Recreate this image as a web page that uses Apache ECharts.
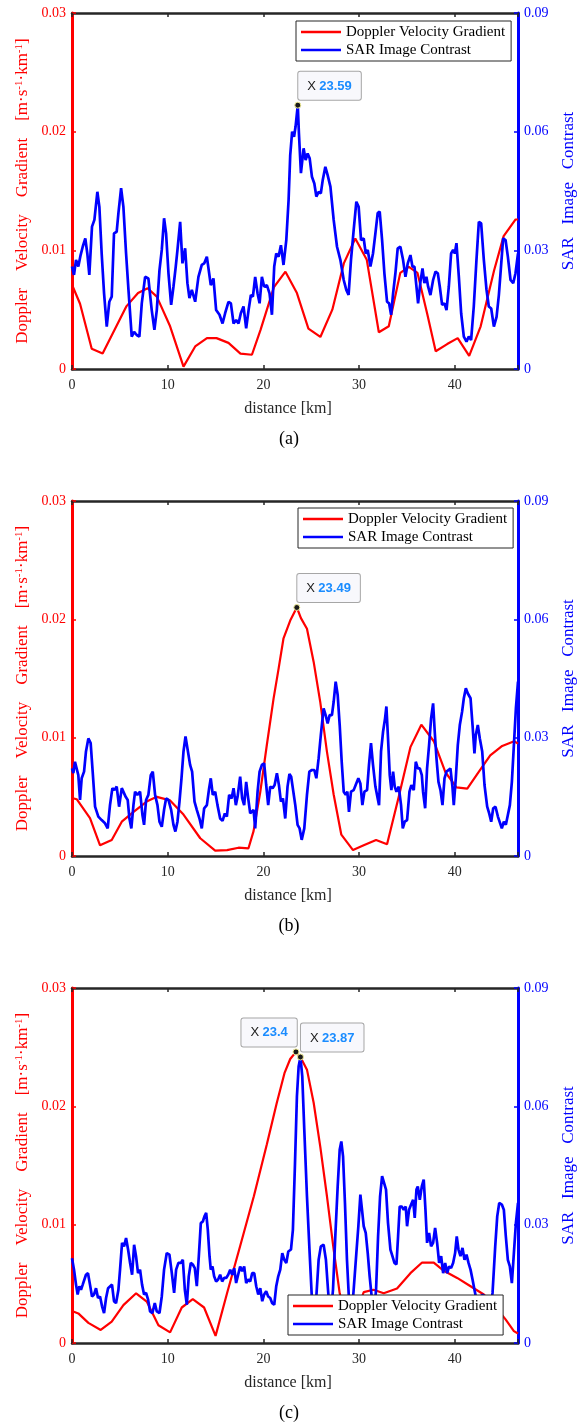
<!DOCTYPE html>
<html>
<head>
<meta charset="utf-8">
<title>Doppler velocity gradient and SAR image contrast</title>
<script src="https://cdn.jsdelivr.net/npm/echarts@6/dist/echarts.min.js"></script>
<style>
  html, body { margin: 0; padding: 0; background: #fff; }
  #chart { width: 578px; height: 1425px; }
</style>
</head>
<body>
<div id="chart"></div>
<script>
// ---------- data ----------
const X_MAX = 46.6;
const xTicks = [0, 10, 20, 30, 40];
const leftTicks = [0, 0.01, 0.02, 0.03];
const rightTicks = [0, 0.03, 0.06, 0.09];
const seriesNames = ['Doppler Velocity Gradient', 'SAR Image Contrast'];
const captions = ['(a)', '(b)', '(c)'];

// (a)
const aGradKm = [0, 0.84, 2.06, 3.2, 5.7, 6.9, 7.9, 8.86, 10.25, 11.65, 12.87, 14.1, 15.1, 16.35, 17.6, 18.8, 19.7, 21.1, 22.3, 23.5, 24.7, 25.95, 27.2, 28.4, 29.6, 30.8, 32.06, 33.1, 34.3, 35.2, 36.1, 37.1, 38.0, 39.2, 40.3, 41.5, 42.7, 44.1, 45.1, 46.35, 46.6];
const aGradVal = [0.0071, 0.0055, 0.0017, 0.0013, 0.0053, 0.0064, 0.0068, 0.0061, 0.0036, 0.0002, 0.0019, 0.0026, 0.0026, 0.0022, 0.0013, 0.0012, 0.0033, 0.0069, 0.0082, 0.0064, 0.0034, 0.0027, 0.0050, 0.0089, 0.0110, 0.0092, 0.0031, 0.0036, 0.0081, 0.0086, 0.0081, 0.0047, 0.0015, 0.0021, 0.0026, 0.0011, 0.0036, 0.0083, 0.0112, 0.0126, 0.0126];
const aConKm = [0, 0.21, 0.42, 0.66, 0.9, 1.12, 1.39, 1.6, 1.81, 2.09, 2.34, 2.65, 2.86, 3.1, 3.35, 3.63, 3.9, 4.15, 4.39, 4.67, 4.85, 5.13, 5.37, 5.65, 5.9, 6.24, 6.49, 6.76, 7.04, 7.29, 7.64, 7.98, 8.33, 8.61, 8.86, 9.14, 9.38, 9.62, 9.83, 10.08, 10.36, 10.6, 10.84, 11.02, 11.3, 11.54, 11.82, 12.06, 12.27, 12.52, 12.87, 13.21, 13.56, 13.81, 14.09, 14.33, 14.5, 14.78, 15.06, 15.41, 15.73, 16.0, 16.35, 16.6, 16.88, 17.15, 17.4, 17.64, 17.92, 18.2, 18.45, 18.69, 18.9, 19.14, 19.39, 19.6, 19.84, 20.08, 20.36, 20.64, 20.89, 21.13, 21.34, 21.58, 21.83, 22.1, 22.39, 22.63, 22.8, 23.0, 23.2, 23.36, 23.59, 23.71, 23.92, 24.2, 24.41, 24.62, 24.83, 25.07, 25.32, 25.53, 25.77, 26.0, 26.2, 26.47, 26.71, 27.0, 27.34, 27.69, 28.04, 28.39, 28.66, 28.9, 29.15, 29.43, 29.71, 29.95, 30.2, 30.48, 30.69, 30.9, 31.18, 31.45, 31.7, 31.94, 32.15, 32.4, 32.64, 32.92, 33.13, 33.34, 33.55, 33.79, 34.03, 34.31, 34.59, 34.84, 35.08, 35.36, 35.57, 35.78, 35.99, 36.16, 36.41, 36.62, 36.82, 37.03, 37.21, 37.45, 37.73, 37.98, 38.22, 38.43, 38.67, 38.92, 39.13, 39.37, 39.61, 39.82, 40.0, 40.17, 40.42, 40.66, 40.94, 41.22, 41.46, 41.7, 41.98, 42.26, 42.51, 42.75, 43.03, 43.31, 43.55, 43.8, 44.08, 44.36, 44.6, 44.85, 45.05, 45.3, 45.54, 45.82, 46.1, 46.34, 46.6];
const aConVal = [0.0259, 0.0238, 0.0276, 0.0259, 0.0288, 0.0309, 0.0330, 0.0292, 0.0238, 0.0360, 0.0377, 0.0448, 0.0410, 0.0292, 0.0191, 0.0107, 0.0170, 0.0183, 0.0343, 0.0347, 0.0394, 0.0457, 0.0410, 0.0292, 0.0200, 0.0082, 0.0094, 0.0086, 0.0082, 0.0166, 0.0233, 0.0229, 0.0149, 0.0099, 0.0149, 0.0250, 0.0301, 0.0381, 0.0343, 0.0242, 0.0162, 0.0208, 0.0259, 0.0301, 0.0372, 0.0267, 0.0305, 0.0217, 0.0179, 0.0200, 0.0170, 0.0233, 0.0263, 0.0267, 0.0284, 0.0242, 0.0212, 0.0229, 0.0149, 0.0137, 0.0115, 0.0141, 0.0170, 0.0166, 0.0115, 0.0124, 0.0115, 0.0141, 0.0158, 0.0103, 0.0149, 0.0187, 0.0183, 0.0233, 0.0191, 0.0166, 0.0233, 0.0208, 0.0212, 0.0191, 0.0137, 0.0259, 0.0292, 0.0284, 0.0313, 0.0263, 0.0326, 0.0427, 0.0540, 0.0600, 0.0587, 0.0613, 0.0667, 0.0596, 0.0495, 0.0558, 0.0528, 0.0545, 0.0533, 0.0486, 0.0469, 0.0436, 0.0448, 0.0444, 0.0478, 0.0511, 0.0490, 0.0461, 0.0377, 0.0309, 0.0276, 0.0225, 0.0200, 0.0187, 0.0276, 0.0351, 0.0423, 0.0410, 0.0326, 0.0330, 0.0292, 0.0301, 0.0259, 0.0292, 0.0343, 0.0394, 0.0398, 0.0326, 0.0242, 0.0170, 0.0166, 0.0137, 0.0191, 0.0242, 0.0305, 0.0309, 0.0276, 0.0233, 0.0267, 0.0288, 0.0259, 0.0259, 0.0208, 0.0166, 0.0221, 0.0254, 0.0217, 0.0233, 0.0208, 0.0187, 0.0225, 0.0246, 0.0242, 0.0208, 0.0162, 0.0166, 0.0149, 0.0208, 0.0292, 0.0301, 0.0292, 0.0318, 0.0233, 0.0141, 0.0082, 0.0069, 0.0082, 0.0073, 0.0158, 0.0276, 0.0372, 0.0368, 0.0276, 0.0200, 0.0158, 0.0153, 0.0107, 0.0132, 0.0187, 0.0267, 0.0330, 0.0326, 0.0284, 0.0225, 0.0217, 0.0242, 0.0292];

// (b)
const bGradKm = [0, 0.49, 1.88, 2.93, 4.15, 5.2, 6.4, 7.8, 8.86, 10.25, 11.65, 13.4, 14.96, 16.2, 17.4, 18.44, 18.97, 19.67, 20.36, 21.06, 21.6, 22.1, 22.8, 23.49, 23.92, 24.55, 25.25, 25.94, 26.64, 27.34, 28.14, 29.36, 30.48, 31.77, 32.92, 34.14, 35.36, 36.5, 37.8, 39.0, 40.17, 41.3, 42.5, 43.7, 44.95, 46.2, 46.6];
const bGradVal = [0.0049, 0.0048, 0.0032, 0.0009, 0.00135, 0.0029, 0.0037, 0.0046, 0.0050, 0.0047, 0.0035, 0.0015, 0.00045, 0.0005, 0.0007, 0.00065, 0.0021, 0.0054, 0.0094, 0.0133, 0.0159, 0.0184, 0.0199, 0.0210, 0.0201, 0.0192, 0.0164, 0.0130, 0.0088, 0.0052, 0.0018, 0.0005, 0.0009, 0.00135, 0.0010, 0.0050, 0.0092, 0.0111, 0.0097, 0.0071, 0.0058, 0.0057, 0.0071, 0.0085, 0.0093, 0.0097, 0.0095];
const bConKm = [0, 0.14, 0.31, 0.49, 0.66, 0.84, 1.01, 1.26, 1.46, 1.71, 1.95, 2.16, 2.41, 2.75, 3.1, 3.45, 3.73, 3.97, 4.22, 4.43, 4.67, 4.92, 5.2, 5.4, 5.61, 5.82, 6.0, 6.2, 6.42, 6.59, 6.83, 7.11, 7.36, 7.53, 7.74, 7.98, 8.23, 8.44, 8.68, 8.93, 9.14, 9.38, 9.62, 9.83, 10.08, 10.36, 10.6, 10.8, 11.02, 11.23, 11.44, 11.65, 11.86, 12.06, 12.34, 12.55, 12.8, 13.04, 13.32, 13.56, 13.81, 14.09, 14.33, 14.5, 14.71, 14.96, 15.2, 15.48, 15.73, 15.97, 16.18, 16.42, 16.67, 16.88, 17.12, 17.3, 17.57, 17.78, 17.99, 18.2, 18.41, 18.62, 18.8, 18.97, 19.14, 19.39, 19.6, 19.84, 20.08, 20.29, 20.5, 20.71, 20.96, 21.17, 21.41, 21.62, 21.83, 22.04, 22.28, 22.52, 22.72, 22.9, 23.1, 23.33, 23.57, 23.78, 24.0, 24.27, 24.55, 24.8, 25.07, 25.32, 25.53, 25.77, 26.0, 26.29, 26.5, 26.71, 26.92, 27.16, 27.34, 27.55, 27.76, 27.97, 28.18, 28.39, 28.6, 28.77, 28.94, 29.15, 29.43, 29.64, 29.92, 30.13, 30.34, 30.55, 30.83, 31.03, 31.24, 31.45, 31.7, 31.94, 32.08, 32.29, 32.5, 32.71, 32.85, 33.02, 33.2, 33.37, 33.55, 33.72, 33.9, 34.14, 34.38, 34.56, 34.77, 35.01, 35.26, 35.46, 35.71, 35.92, 36.13, 36.34, 36.55, 36.68, 36.9, 37.1, 37.31, 37.52, 37.73, 37.9, 38.08, 38.29, 38.5, 38.71, 38.92, 39.13, 39.33, 39.54, 39.75, 39.89, 40.1, 40.31, 40.52, 40.76, 40.94, 41.15, 41.36, 41.64, 41.85, 42.05, 42.19, 42.4, 42.61, 42.86, 43.1, 43.38, 43.59, 43.8, 44.01, 44.25, 44.5, 44.7, 44.91, 45.12, 45.33, 45.54, 45.75, 45.96, 46.17, 46.38, 46.6];
const bConVal = [0.0222, 0.0210, 0.0239, 0.0239, 0.0205, 0.0142, 0.0197, 0.0214, 0.0265, 0.0298, 0.0286, 0.0214, 0.0125, 0.0100, 0.0091, 0.0083, 0.0070, 0.0129, 0.0172, 0.0167, 0.0176, 0.0125, 0.0172, 0.0176, 0.0150, 0.0142, 0.0095, 0.0070, 0.0129, 0.0163, 0.0155, 0.0163, 0.0104, 0.0079, 0.0142, 0.0155, 0.0205, 0.0214, 0.0155, 0.0129, 0.0087, 0.0074, 0.0117, 0.0146, 0.0142, 0.0117, 0.0079, 0.0062, 0.0087, 0.0138, 0.0197, 0.0265, 0.0303, 0.0298, 0.0231, 0.0214, 0.0138, 0.0117, 0.0095, 0.0070, 0.0121, 0.0129, 0.0172, 0.0197, 0.0155, 0.0163, 0.0129, 0.0095, 0.0089, 0.0108, 0.0100, 0.0155, 0.0146, 0.0172, 0.0129, 0.0150, 0.0201, 0.0146, 0.0129, 0.0188, 0.0146, 0.0108, 0.0108, 0.0117, 0.0070, 0.0163, 0.0214, 0.0231, 0.0235, 0.0180, 0.0129, 0.0176, 0.0172, 0.0180, 0.0210, 0.0180, 0.0138, 0.0146, 0.0095, 0.0176, 0.0208, 0.0201, 0.0205, 0.0129, 0.0079, 0.0070, 0.0041, 0.0070, 0.0155, 0.0214, 0.0218, 0.0218, 0.0197, 0.0248, 0.0307, 0.0374, 0.0357, 0.0336, 0.0357, 0.0357, 0.0391, 0.0442, 0.0408, 0.0332, 0.0239, 0.0163, 0.0155, 0.0163, 0.0112, 0.0163, 0.0167, 0.0180, 0.0197, 0.0184, 0.0129, 0.0163, 0.0167, 0.0231, 0.0286, 0.0231, 0.0176, 0.0146, 0.0129, 0.0265, 0.0315, 0.0349, 0.0379, 0.0298, 0.0205, 0.0167, 0.0214, 0.0176, 0.0163, 0.0176, 0.0129, 0.0070, 0.0087, 0.0091, 0.0163, 0.0180, 0.0167, 0.0239, 0.0222, 0.0222, 0.0205, 0.0163, 0.0121, 0.0222, 0.0281, 0.0349, 0.0387, 0.0315, 0.0248, 0.0188, 0.0167, 0.0129, 0.0197, 0.0214, 0.0218, 0.0222, 0.0176, 0.0129, 0.0197, 0.0281, 0.0332, 0.0366, 0.0400, 0.0425, 0.0412, 0.0400, 0.0332, 0.0260, 0.0307, 0.0332, 0.0298, 0.0265, 0.0180, 0.0125, 0.0108, 0.0087, 0.0121, 0.0125, 0.0100, 0.0095, 0.0070, 0.0087, 0.0079, 0.0104, 0.0129, 0.0188, 0.0281, 0.0374, 0.0442];

// (c)
const cGradKm = [0, 0.66, 1.71, 3.0, 4.15, 5.37, 6.7, 7.81, 9.03, 10.25, 11.47, 12.62, 13.8, 15.0, 16.2, 17.57, 19.0, 20.36, 21.4, 22.2, 22.8, 23.4, 23.85, 24.55, 25.25, 25.94, 26.64, 27.34, 27.97, 28.6, 29.3, 29.9, 30.48, 31.5, 32.57, 33.96, 35.36, 36.58, 37.8, 38.85, 40.24, 41.64, 43.03, 44.2, 45.3, 46.17, 46.6];
const cGradVal = [0.0027, 0.0025, 0.0017, 0.0011, 0.0018, 0.0032, 0.0042, 0.0035, 0.0015, 0.0009, 0.0030, 0.0037, 0.0030, 0.0006, 0.0042, 0.0082, 0.0124, 0.0168, 0.0203, 0.0228, 0.0240, 0.0246, 0.0242, 0.0231, 0.0203, 0.0166, 0.0124, 0.0079, 0.0042, 0.0022, 0.0012, 0.0030, 0.0043, 0.0045, 0.0042, 0.0046, 0.0059, 0.0068, 0.0068, 0.0061, 0.0055, 0.0048, 0.0041, 0.0031, 0.0020, 0.0010, 0.0008];
const cConKm = [0, 0.21, 0.42, 0.59, 0.77, 0.94, 1.12, 1.29, 1.46, 1.67, 1.88, 2.09, 2.3, 2.51, 2.72, 2.93, 3.14, 3.35, 3.56, 3.77, 3.97, 4.18, 4.39, 4.6, 4.85, 5.02, 5.23, 5.44, 5.65, 5.86, 6.07, 6.28, 6.49, 6.69, 6.9, 7.11, 7.32, 7.53, 7.74, 7.95, 8.16, 8.4, 8.65, 8.86, 9.14, 9.38, 9.62, 9.9, 10.18, 10.43, 10.67, 10.88, 11.12, 11.37, 11.58, 11.79, 12.0, 12.2, 12.41, 12.62, 12.83, 13.04, 13.25, 13.46, 13.67, 13.84, 14.02, 14.19, 14.37, 14.5, 14.68, 14.85, 15.06, 15.27, 15.48, 15.69, 15.9, 16.11, 16.32, 16.53, 16.74, 16.95, 17.15, 17.36, 17.57, 17.78, 17.99, 18.2, 18.41, 18.62, 18.83, 19.04, 19.25, 19.46, 19.67, 19.88, 20.08, 20.29, 20.5, 20.71, 20.92, 21.13, 21.34, 21.55, 21.76, 21.97, 22.18, 22.39, 22.6, 22.88, 23.08, 23.3, 23.5, 23.68, 23.87, 24.06, 24.27, 24.55, 24.83, 25.07, 25.25, 25.53, 25.77, 26.0, 26.29, 26.53, 26.75, 26.99, 27.27, 27.51, 27.76, 27.97, 28.14, 28.32, 28.52, 28.73, 28.94, 29.15, 29.43, 29.71, 29.92, 30.13, 30.3, 30.48, 30.69, 30.9, 31.1, 31.31, 31.52, 31.77, 31.98, 32.19, 32.4, 32.6, 32.81, 33.02, 33.27, 33.48, 33.69, 33.9, 34.07, 34.24, 34.45, 34.66, 34.87, 35.01, 35.22, 35.43, 35.64, 35.81, 35.99, 36.13, 36.34, 36.55, 36.75, 36.93, 37.1, 37.31, 37.52, 37.73, 37.94, 38.15, 38.36, 38.57, 38.78, 38.99, 39.2, 39.4, 39.61, 39.82, 40.03, 40.2, 40.38, 40.59, 40.8, 41.01, 41.22, 41.43, 41.64, 41.85, 42.05, 42.33, 42.68, 42.96, 43.24, 43.59, 43.94, 44.22, 44.43, 44.64, 44.91, 45.12, 45.33, 45.54, 45.75, 45.96, 46.17, 46.38, 46.6];
const cConVal = [0.0215, 0.0186, 0.0148, 0.0123, 0.0144, 0.0135, 0.0148, 0.0148, 0.0173, 0.0177, 0.0148, 0.0118, 0.0123, 0.0139, 0.0114, 0.0118, 0.0093, 0.0076, 0.0114, 0.0139, 0.0135, 0.0148, 0.0106, 0.0101, 0.0135, 0.0186, 0.0254, 0.0245, 0.0266, 0.0237, 0.0203, 0.0173, 0.0249, 0.0220, 0.0177, 0.0186, 0.0148, 0.0123, 0.0127, 0.0110, 0.0080, 0.0076, 0.0101, 0.0080, 0.0076, 0.0118, 0.0186, 0.0228, 0.0224, 0.0177, 0.0127, 0.0186, 0.0203, 0.0203, 0.0211, 0.0135, 0.0097, 0.0169, 0.0203, 0.0199, 0.0190, 0.0144, 0.0220, 0.0304, 0.0308, 0.0321, 0.0330, 0.0287, 0.0220, 0.0186, 0.0194, 0.0169, 0.0156, 0.0161, 0.0173, 0.0156, 0.0165, 0.0165, 0.0173, 0.0186, 0.0173, 0.0190, 0.0152, 0.0173, 0.0194, 0.0182, 0.0194, 0.0152, 0.0161, 0.0156, 0.0177, 0.0177, 0.0144, 0.0123, 0.0139, 0.0106, 0.0123, 0.0131, 0.0118, 0.0114, 0.0101, 0.0097, 0.0144, 0.0169, 0.0186, 0.0228, 0.0211, 0.0203, 0.0232, 0.0237, 0.0287, 0.0456, 0.0625, 0.0701, 0.0725, 0.0676, 0.0541, 0.0372, 0.0228, 0.0110, 0.0042, 0.0118, 0.0211, 0.0245, 0.0249, 0.0211, 0.0135, 0.0059, 0.0135, 0.0270, 0.0397, 0.0490, 0.0511, 0.0473, 0.0355, 0.0211, 0.0110, 0.0051, 0.0135, 0.0228, 0.0296, 0.0376, 0.0338, 0.0296, 0.0279, 0.0228, 0.0169, 0.0118, 0.0068, 0.0135, 0.0270, 0.0372, 0.0423, 0.0427, 0.0389, 0.0304, 0.0237, 0.0220, 0.0203, 0.0199, 0.0270, 0.0346, 0.0346, 0.0338, 0.0346, 0.0296, 0.0338, 0.0351, 0.0363, 0.0317, 0.0389, 0.0397, 0.0363, 0.0397, 0.0414, 0.0338, 0.0254, 0.0279, 0.0245, 0.0254, 0.0292, 0.0254, 0.0203, 0.0220, 0.0177, 0.0203, 0.0177, 0.0194, 0.0190, 0.0203, 0.0228, 0.0270, 0.0237, 0.0220, 0.0241, 0.0211, 0.0224, 0.0203, 0.0186, 0.0161, 0.0135, 0.0101, 0.0118, 0.0123, 0.0068, 0.0059, 0.0127, 0.0245, 0.0321, 0.0355, 0.0351, 0.0338, 0.0270, 0.0211, 0.0194, 0.0152, 0.0228, 0.0304, 0.0355];

// data tips: panel, series index, x of the marked sample, side of the box
const tips = [
  { panel: 0, series: 1, x: 23.59, side: 'right' },
  { panel: 1, series: 0, x: 23.49, side: 'right' },
  { panel: 2, series: 0, x: 23.4, side: 'left' },
  { panel: 2, series: 1, x: 23.87, side: 'right' }
];

// ---------- styling / layout ----------
const SERIF = "'Liberation Serif', 'Times New Roman', serif";
const SANS = "'Liberation Sans', Arial, sans-serif";
const RED = '#ff0000';
const BLUE = '#0000ff';
const INK = '#262626';

const panels = [
  { top: 13,  height: 356, gradKm: aGradKm, gradVal: aGradVal, conKm: aConKm, conVal: aConVal, legend: { left: 296, top: 21 } },
  { top: 501, height: 355, gradKm: bGradKm, gradVal: bGradVal, conKm: bConKm, conVal: bConVal, legend: { left: 298, top: 508 } },
  { top: 988, height: 355, gradKm: cGradKm, gradVal: cGradVal, conKm: cConKm, conVal: cConVal, legend: { left: 288, top: 1295 } }
];

const zip = (xs, ys) => xs.map((x, i) => [x, ys[i]]);
const fmt = v => (v === 0 ? '0' : v.toFixed(2));

const option = {
  animation: false,
  backgroundColor: '#ffffff',
  grid: [], xAxis: [], yAxis: [], series: [], legend: [], title: []
};

panels.forEach((p, i) => {
  option.grid.push({ left: 72, right: 60, top: p.top, height: p.height, containLabel: false, outerBoundsMode: 'none' });

  const xBase = {
    type: 'value', gridIndex: i, min: 0, max: X_MAX, interval: 10,
    axisLine: { show: true, onZero: false, lineStyle: { color: INK, width: 2.5 } },
    axisTick: { show: true, inside: true, length: 4, lineStyle: { color: INK, width: 1.5 } },
    splitLine: { show: false }
  };
  option.xAxis.push(Object.assign({}, xBase, {
    position: 'bottom',
    axisLabel: { show: true, margin: 9, color: INK, fontFamily: SERIF, fontSize: 14,
      formatter: v => (xTicks.indexOf(v) >= 0 ? String(v) : '') },
    name: 'distance [km]', nameLocation: 'middle', nameGap: 32,
    nameTextStyle: { color: INK, fontFamily: SERIF, fontSize: 16, padding: [0, 14, 0, 0] }
  }));
  option.xAxis.push(Object.assign({}, xBase, { position: 'top', axisLabel: { show: false } }));

  option.yAxis.push({
    type: 'value', gridIndex: i, position: 'left', min: leftTicks[0], max: leftTicks[leftTicks.length - 1], interval: 0.01,
    axisLine: { show: true, onZero: false, lineStyle: { color: RED, width: 3 } },
    axisTick: { show: true, inside: true, length: 4, lineStyle: { color: RED, width: 1.5 } },
    axisLabel: { margin: 6, color: RED, fontFamily: SERIF, fontSize: 14, formatter: fmt },
    splitLine: { show: false },
    name: 'Doppler    Velocity    Gradient    [m·s{sup|-1}·km{sup|-1}]',
    nameLocation: 'middle', nameRotate: 90, nameGap: 39,
    nameTextStyle: {
      color: RED, fontFamily: SERIF, fontSize: 17,
      rich: { sup: { color: RED, fontFamily: SERIF, fontSize: 11, verticalAlign: 'top', lineHeight: 11 } }
    }
  });
  option.yAxis.push({
    type: 'value', gridIndex: i, position: 'right', min: rightTicks[0], max: rightTicks[rightTicks.length - 1], interval: 0.03,
    axisLine: { show: true, onZero: false, lineStyle: { color: BLUE, width: 3 } },
    axisTick: { show: true, inside: true, length: 4, lineStyle: { color: BLUE, width: 1.5 } },
    axisLabel: { margin: 6, color: BLUE, fontFamily: SERIF, fontSize: 14, formatter: fmt },
    splitLine: { show: false },
    name: 'SAR   Image   Contrast', nameLocation: 'middle', nameRotate: 90, nameGap: 42,
    nameTextStyle: { color: BLUE, fontFamily: SERIF, fontSize: 17 }
  });

  const gradData = zip(p.gradKm, p.gradVal);
  const conData = zip(p.conKm, p.conVal);
  const seriesData = [gradData, conData];

  const markFor = s => {
    const list = tips.filter(t => t.panel === i && t.series === s).map(t => {
      const pt = seriesData[s].find(d => d[0] === t.x);
      return {
        coord: pt,
        label: {
          show: true,
          position: t.side === 'left' ? [-51, -30] : [4, -30],
          align: 'left', verticalAlign: 'top',
          formatter: '{k|X} {v|' + t.x + '}',
          backgroundColor: '#f8f8fc', borderColor: '#a6a6a6', borderWidth: 1, borderRadius: 2,
          padding: [8, 9, 7, 9],
          rich: {
            k: { fontFamily: SANS, fontSize: 13, color: '#1a1a1a' },
            v: { fontFamily: SANS, fontSize: 13, fontWeight: 'bold', color: '#1a8cff' }
          }
        }
      };
    });
    return {
      symbol: 'circle', symbolSize: 6, silent: true,
      itemStyle: { color: '#1a1a1a', borderColor: '#f2ee9a', borderWidth: 1 },
      data: list
    };
  };

  option.series.push({
    type: 'line', name: seriesNames[0], xAxisIndex: 2 * i, yAxisIndex: 2 * i,
    data: gradData, showSymbol: false, symbol: 'none', z: 2,
    lineStyle: { color: RED, width: 2.2 }, itemStyle: { color: RED },
    markPoint: markFor(0)
  });
  option.series.push({
    type: 'line', name: seriesNames[1], xAxisIndex: 2 * i, yAxisIndex: 2 * i + 1,
    data: conData, showSymbol: false, symbol: 'none', z: 3,
    lineStyle: { color: BLUE, width: 2.7 }, itemStyle: { color: BLUE },
    markPoint: markFor(1)
  });

  option.legend.push({
    data: seriesNames, orient: 'vertical', left: p.legend.left, top: p.legend.top,
    icon: 'rect', itemWidth: 40, itemHeight: 2.5, itemGap: 2, padding: [3, 6, 3, 5],
    backgroundColor: '#ffffff', borderColor: INK, borderWidth: 1, borderRadius: 0,
    selectedMode: false, z: 10,
    textStyle: { color: '#000', fontFamily: SERIF, fontSize: 15, lineHeight: 16 }
  });

  option.title.push({
    text: captions[i], left: 'center', top: p.top + p.height + 56,
    textStyle: { color: '#000', fontFamily: SERIF, fontSize: 18, fontWeight: 'normal' }
  });
});

const chart = echarts.init(document.getElementById('chart'), null, { renderer: 'canvas' });
chart.setOption(option);
</script>
</body>
</html>
